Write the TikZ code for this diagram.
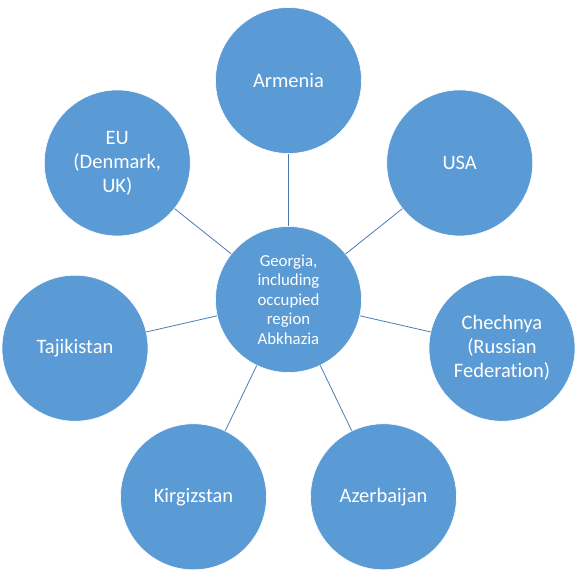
\documentclass[tikz,border=0pt]{standalone}
\usepackage{fontspec}
\setmainfont{Carlito}[Ligatures=NoCommon]
\definecolor{bubblefill}{HTML}{5B9BD5}
\definecolor{spokeblue}{HTML}{4A7DB3}
\tikzset{
    bubble/.style={circle, fill=bubblefill, draw=white, line width=0.6pt,
        minimum size=146pt, inner sep=0pt, align=center, text=white,
        font=\fontsize{20.5}{24}\selectfont},
    hub/.style={bubble, font=\fontsize{16.8}{19.5}\selectfont},
    spoke/.style={draw=spokeblue, line width=0.8pt}
}
\begin{document}
\begin{tikzpicture}[x=1pt, y=1pt]
    \def\rDist{219}   % distance from hub to outer bubbles
    \def\aStep{51.4286} % 360/7

    % Fix the canvas to the reference margins
    \useasboundingbox (-288.5, -276.5) rectangle (287.5, 299.5);

    % Hub
    \node[hub] (georgia) at (0, 0) {Georgia,\\including\\occupied\\region\\Abkhazia};

    % Outer bubbles, clockwise from the top
    \node[bubble] (armenia)    at (90:\rDist)              {Armenia};
    \node[bubble] (usa)        at ({90-\aStep}:\rDist)     {USA};
    \node[bubble] (chechnya)   at ({90-2*\aStep}:\rDist)   {Chechnya\\(Russian\\Federation)};
    \node[bubble] (azerbaijan) at ({90-3*\aStep}:\rDist)   {Azerbaijan};
    \node[bubble] (kirgizstan) at ({90-4*\aStep}:\rDist)   {Kirgizstan};
    \node[bubble] (tajikistan) at ({90-5*\aStep}:\rDist)   {Tajikistan};
    \node[bubble] (eu)         at ({90-6*\aStep}:\rDist)   {EU\\(Denmark,\\UK)};

    % Spokes
    \foreach \n in {armenia, usa, chechnya, azerbaijan, kirgizstan, tajikistan, eu}
        \draw[spoke] (georgia) -- (\n);
\end{tikzpicture}
\end{document}
